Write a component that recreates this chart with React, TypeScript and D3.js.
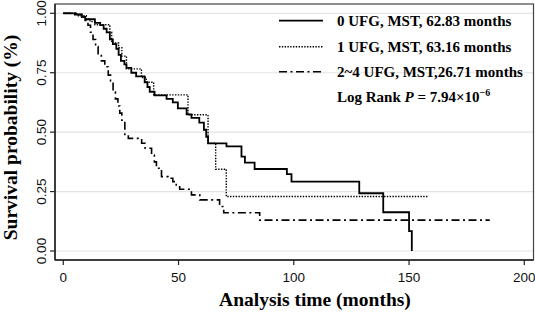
import React from "react";
import * as d3 from "d3";

// ---- Data (Kaplan–Meier steps: time in months, survival after the step) ----
const g0Times = [0, 5, 8, 9.5, 13.7, 16, 17.5, 18.8, 20.2, 21.5, 23, 24, 25, 26.5, 27.4, 29.5, 31.6, 35.3, 36.5, 37.5, 39.6, 44.8, 47.5, 49.7, 53.5, 55.6, 59, 61, 62, 62.8, 70.8, 77.3, 78.8, 83, 97, 99, 128.4, 138.8, 150, 151.2];
const g0Surv = [1, 0.995, 0.985, 0.975, 0.96, 0.95, 0.935, 0.92, 0.89, 0.87, 0.85, 0.825, 0.8, 0.785, 0.77, 0.75, 0.735, 0.71, 0.69, 0.67, 0.655, 0.64, 0.625, 0.6, 0.575, 0.56, 0.54, 0.51, 0.48, 0.453, 0.44, 0.397, 0.372, 0.345, 0.323, 0.292, 0.243, 0.163, 0.084, 0];
const g0End = 151.2;

const g1Times = [0, 6, 10, 11.6, 13.7, 20.2, 21, 24, 25.4, 27.4, 33.9, 36, 39.2, 54.1, 62.8, 66.1, 70.7];
const g1Surv = [1, 0.99, 0.975, 0.965, 0.952, 0.92, 0.875, 0.855, 0.82, 0.766, 0.73, 0.71, 0.657, 0.573, 0.453, 0.344, 0.229];
const g1End = 158;

const g2Times = [0, 6, 8, 9.5, 10.7, 11.8, 12.9, 14, 15.1, 16.5, 18, 19.5, 20.5, 21.6, 22.6, 23.7, 24.5, 25.4, 26.7, 28.2, 34, 35.5, 38.3, 39.5, 40.4, 42.6, 45.4, 47.5, 49, 50.5, 55.6, 59.2, 67.8, 69.6, 85.2];
const g2Surv = [1, 0.995, 0.985, 0.97, 0.95, 0.92, 0.89, 0.86, 0.83, 0.8, 0.775, 0.74, 0.715, 0.67, 0.64, 0.61, 0.58, 0.55, 0.49, 0.474, 0.453, 0.432, 0.404, 0.375, 0.348, 0.313, 0.306, 0.292, 0.27, 0.26, 0.236, 0.215, 0.187, 0.161, 0.13];
const g2End = 185;

const xTicks = [0, 50, 100, 150, 200];
const yTicks = [0, 0.25, 0.5, 0.75, 1];
const legendLabels = ["0 UFG, MST, 62.83 months", "1 UFG, MST, 63.16 months", "2~4 UFG, MST,26.71 months"];

const W = 535;
const H = 313;
const frame = { left: 55, top: 4, right: 533.5, bottom: 260 };

export default function App() {
  const x = d3.scaleLinear().domain([0, 200]).range([63.3, 524.3]);
  const y = d3.scaleLinear().domain([0, 1]).range([251, 13.3]);

  const line = d3
    .line<[number, number]>()
    .x((d) => x(d[0]))
    .y((d) => y(d[1]))
    .curve(d3.curveStepAfter);

  const mk = (t: number[], s: number[], end: number): [number, number][] => {
    const pts: [number, number][] = t.map((v, i) => [v, s[i]]);
    pts.push([end, s[s.length - 1]]);
    return pts;
  };

  const series = [
    { pts: mk(g0Times, g0Surv, g0End), dash: undefined as string | undefined, w: 1.8 },
    { pts: mk(g1Times, g1Surv, g1End), dash: "1.4,1.4", w: 1.4 },
    { pts: mk(g2Times, g2Surv, g2End), dash: "8,3.5,2,3.5", w: 1.6 },
  ];

  const serif = "'Liberation Serif', 'Times New Roman', serif";
  const sans = "'Liberation Sans', Arial, sans-serif";

  const legendY = [20.7, 46.7, 71.7];

  return (
    <svg width={W} height={H} style={{ position: "absolute", left: 0, top: 0, background: "#fff" }}>
      <rect x={0} y={0} width={W} height={H} fill="#fff" />
      {/* gridlines */}
      {yTicks.map((t) => (
        <line key={"g" + t} x1={frame.left} x2={frame.right} y1={y(t)} y2={y(t)} stroke="#e3e3e3" strokeWidth={1.2} />
      ))}
      {/* frame */}
      <rect
        x={frame.left}
        y={frame.top}
        width={frame.right - frame.left}
        height={frame.bottom - frame.top}
        fill="none"
        stroke="#444"
        strokeWidth={1.2}
      />
      <line x1={frame.left} x2={frame.left} y1={frame.top} y2={frame.bottom} stroke="#222" strokeWidth={1.5} />
      <line x1={frame.left} x2={frame.right} y1={frame.bottom} y2={frame.bottom} stroke="#222" strokeWidth={1.5} />
      {/* y ticks */}
      {yTicks.map((t) => (
        <g key={"y" + t}>
          <line x1={frame.left - 5} x2={frame.left} y1={y(t)} y2={y(t)} stroke="#222" strokeWidth={1.2} />
          <text
            transform={`translate(45.5,${y(t)}) rotate(-90)`}
            textAnchor="middle"
            fontFamily={sans}
            fontSize={13.5}
            fill="#111"
          >
            {d3.format(".2f")(t)}
          </text>
        </g>
      ))}
      {/* x ticks */}
      {xTicks.map((t) => (
        <g key={"x" + t}>
          <line x1={x(t)} x2={x(t)} y1={frame.bottom} y2={frame.bottom + 5} stroke="#222" strokeWidth={1.2} />
          <text x={x(t)} y={282} textAnchor="middle" fontFamily={sans} fontSize={13.5} fill="#111">
            {t}
          </text>
        </g>
      ))}
      {/* curves */}
      {series.map((s, i) => (
        <path
          key={"s" + i}
          d={line(s.pts) || ""}
          fill="none"
          stroke="#000"
          strokeWidth={s.w}
          strokeDasharray={s.dash}
        />
      ))}
      {/* legend */}
      {legendLabels.map((lab, i) => (
        <g key={"l" + i}>
          <line
            x1={279}
            x2={323}
            y1={legendY[i]}
            y2={legendY[i]}
            stroke="#000"
            strokeWidth={series[i].w}
            strokeDasharray={series[i].dash}
          />
          <text x={337} y={legendY[i] + 5.5} fontFamily={serif} fontWeight="bold" fontSize={15} fill="#000">
            {lab}
          </text>
        </g>
      ))}
      <text x={337} y={101.5} fontFamily={serif} fontWeight="bold" fontSize={15} fill="#000">
        Log Rank <tspan fontStyle="italic">P</tspan> = 7.94×10
        <tspan dy={-6} fontSize={10}>−6</tspan>
      </text>
      {/* axis titles */}
      <text x={315} y={306} textAnchor="middle" fontFamily={serif} fontWeight="bold" fontSize={19.5} fill="#000">
        Analysis time (months)
      </text>
      <text
        transform={`translate(16.5,137.5) rotate(-90)`}
        textAnchor="middle"
        fontFamily={serif}
        fontWeight="bold"
        fontSize={19.5}
        fill="#000"
      >
        Survival probability (%)
      </text>
    </svg>
  );
}
